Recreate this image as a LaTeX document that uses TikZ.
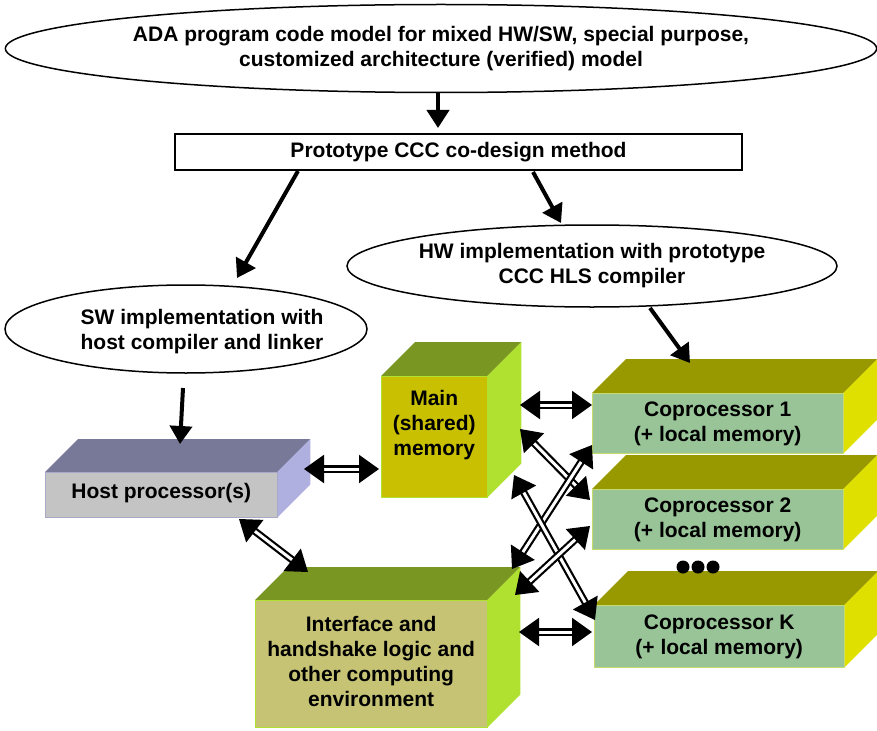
\documentclass[tikz,border=0pt]{standalone}
\usepackage{fontspec}
\setmainfont{Liberation Sans}
\usetikzlibrary{arrows.meta,shapes.geometric,calc}

% face colours: F = front, T = top, S = side, B = front border
\definecolor{hostF}{RGB}{196,196,196}
\definecolor{hostT}{RGB}{120,120,152}
\definecolor{hostS}{RGB}{176,176,224}
\definecolor{hostB}{RGB}{168,168,200}
\definecolor{memF}{RGB}{200,192,0}
\definecolor{memT}{RGB}{122,150,34}
\definecolor{memS}{RGB}{176,224,48}
\definecolor{memB}{RGB}{176,224,48}
\definecolor{ifaceF}{RGB}{198,196,116}
\definecolor{ifaceT}{RGB}{122,150,34}
\definecolor{ifaceS}{RGB}{176,224,48}
\definecolor{ifaceB}{RGB}{176,224,48}
\definecolor{copF}{RGB}{152,196,152}
\definecolor{copT}{RGB}{152,152,0}
\definecolor{copS}{RGB}{224,224,0}
\definecolor{copB}{RGB}{200,220,110}

% #1 name, #2 colour prefix, #3 left x, #4 top y, #5 width, #6 height,
% #7 depth, #8 label, #9 vertical offset of the label
\newcommand\cuboid[9]{%
  \node[face, fill=#2F, minimum width=#5pt, minimum height=#6pt,
        anchor=north west] (#1) at (#3,-#4) {};
  \fill[#2T] (#1.north west) -- ++(#7,#7) -- ([shift={(#7,#7)}]#1.north east)
             -- (#1.north east) -- cycle;
  \fill[#2S] (#1.north east) -- ++(#7,#7) -- ([shift={(#7,#7)}]#1.south east)
             -- (#1.south east) -- cycle;
  \draw[#2B, line width=1pt] (#1.north west) rectangle (#1.south east);
  \node (#1-label) at ($(#1.center)+(0,#9)$) {#8};
}

\begin{document}
\begin{tikzpicture}[x=1pt, y=1pt,
  every node/.style={font=\fontsize{21}{25}\selectfont\bfseries,
                     align=center, inner sep=0pt},
  bubble/.style={ellipse, draw=black, line width=1.5pt, fill=white},
  face/.style={rectangle},
  flow/.style={line width=4pt, -{Triangle[length=18pt,width=22pt]}},
  link/.style={double=white, double distance=3pt, line width=2.2pt,
               {Triangle[length=20pt,width=28pt]}-{Triangle[length=20pt,width=28pt]}},
]
\useasboundingbox (0,0) rectangle (877,-730);

% model and method
\node[bubble, minimum width=832pt, minimum height=88pt] (model) at (441,-48.5)
  {ADA program code model for mixed HW/SW, special purpose,\\
   customized architecture (verified) model};
\node[draw=black, line width=1.5pt, minimum width=567pt, minimum height=36pt]
  (method) at (458.5,-152) {Prototype CCC co-design method};

% implementation paths
\node[bubble, minimum width=490pt, minimum height=82pt] (hw) at (592,-266)
  {HW implementation with prototype\\CCC HLS compiler};
\node[bubble, minimum width=362pt, minimum height=88pt] (sw) at (186,-329) {};
\node (sw-label) at (202,-332) {SW implementation with\\host compiler and linker};

% hardware blocks
\cuboid{host}{host}{45}{472}{232}{45}{33}{Host processor(s)}{2}
\cuboid{mem}{mem}{381}{376}{106}{121}{34}{Main\\(shared)\\memory}{12}
\cuboid{copA}{cop}{592}{393}{251}{60}{34}{Coprocessor 1\\(+ local memory)}{-1}
\cuboid{copB}{cop}{592}{489}{251}{60}{34}{Coprocessor 2\\(+ local memory)}{-1}
\cuboid{copK}{cop}{594}{605}{250}{62}{34}{Coprocessor K\\(+ local memory)}{-1}
\cuboid{iface}{iface}{255}{600}{232}{127}{33}{Interface and\\handshake logic and\\other computing\\environment}{2}

% ellipsis between coprocessors
\fill (683,-567) circle (6.5) (698,-567) circle (6.5) (713,-567) circle (6.5);

% flow arrows
\coordinate (f1a) at (438,-92);  \coordinate (f1b) at (438,-128);
\coordinate (f2a) at (298,-171); \coordinate (f2b) at (237,-278);
\coordinate (f3a) at (533,-172); \coordinate (f3b) at (561,-223);
\coordinate (f4a) at (183,-388); \coordinate (f4b) at (180,-444);
\coordinate (f5a) at (650,-308); \coordinate (f5b) at (690,-363);
\draw[flow] (f1a) -- (f1b);
\draw[flow] (f2a) -- (f2b);
\draw[flow] (f3a) -- (f3b);
\draw[flow] (f4a) -- (f4b);
\draw[flow] (f5a) -- (f5b);

% data links
\coordinate (hm1) at (304,-469); \coordinate (hm2) at (379,-469);
\coordinate (m11) at (520,-405); \coordinate (m12) at (592,-405);
\coordinate (m21) at (520,-429); \coordinate (m22) at (590,-500);
\coordinate (c11) at (592,-445); \coordinate (c12) at (512,-569);
\coordinate (mk1) at (514,-475); \coordinate (mk2) at (595,-620);
\coordinate (c21) at (590,-526); \coordinate (c22) at (515,-595);
\coordinate (ik1) at (519,-632); \coordinate (ik2) at (592,-632);
\coordinate (hi1) at (239,-519); \coordinate (hi2) at (308,-572);
\draw[link] (hm1) -- (hm2);
\draw[link] (m11) -- (m12);
\draw[link] (m21) -- (m22);
\draw[link] (c11) -- (c12);
\draw[link] (mk1) -- (mk2);
\draw[link] (c21) -- (c22);
\draw[link] (ik1) -- (ik2);
\draw[link] (hi1) -- (hi2);
\end{tikzpicture}
\end{document}
